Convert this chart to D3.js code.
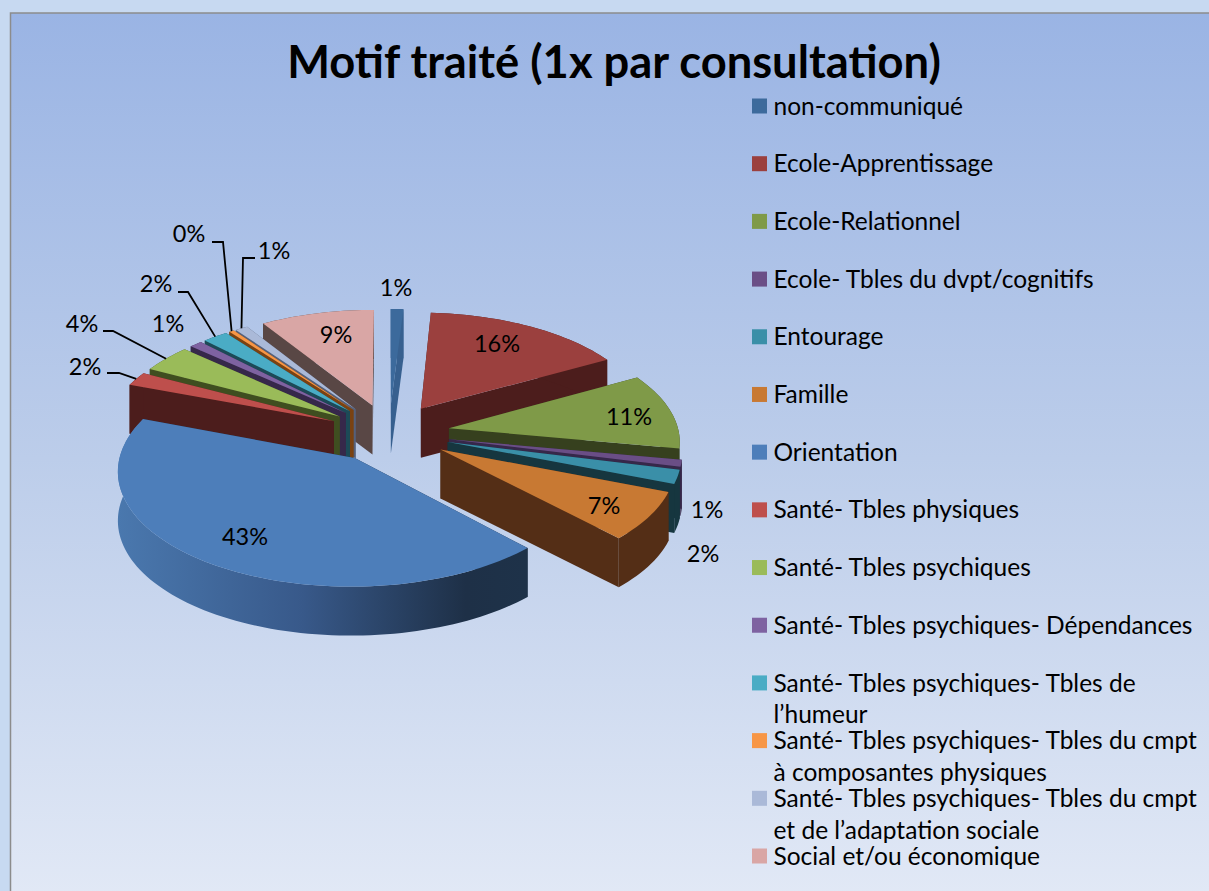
<!DOCTYPE html>
<html>
<head>
<meta charset="utf-8">
<title>Motif traité</title>
<script src="https://cdnjs.cloudflare.com/ajax/libs/d3/7.8.5/d3.min.js"></script>
<style>
    html, body { margin: 0; padding: 0; background: #c7d9f1; overflow: hidden; }
    svg { display: block; }
    text { font-family: Lato, "Open Sans", sans-serif; fill: #000; }
</style>
</head>
<body>
<div id="chart"></div>
<script>
const titleText = 'Motif traité (1x par consultation)';

// Categories and values, clockwise from 12 o'clock
const categories = [
    'non-communiqué', 'Ecole-Apprentissage', 'Ecole-Relationnel', 'Ecole- Tbles du dvpt/cognitifs',
    'Entourage', 'Famille', 'Orientation', 'Santé- Tbles physiques', 'Santé- Tbles psychiques',
    'Santé- Tbles psychiques- Dépendances', 'Santé- Tbles psychiques- Tbles de|l’humeur',
    'Santé- Tbles psychiques- Tbles du cmpt|à composantes physiques',
    'Santé- Tbles psychiques- Tbles du cmpt|et de l’adaptation sociale', 'Social et/ou économique'
];
const values = [1, 16, 11, 1, 2, 7, 43, 2, 4, 1, 2, 0.4, 1, 9];

const topColors = ['#3c6a9c', '#9b403e', '#7f9a48', '#6a4e86', '#3a8fa8', '#c87933', '#4d7eba',
    '#be4f4c', '#9abb59', '#7e62a1', '#4aacc5', '#f79646', '#aab9d8', '#d9a6a5'];
const sideColors = ['#37608f', '#4c1d1c', '#36401e', '#36284a', '#16363f', '#542e16', '#1e3047',
    '#4c1d1c', '#3f4e20', '#36284a', '#1c4a57', '#7a4212', '#55607a', '#594745'];

// Label placement [x, y] per slice, elbow of the leader line where there is one
const labelPos = [[396, 288], [497, 344], [629, 417], [707, 510], [703, 554], [604, 506], [245, 537],
    [85, 367], [82, 324], [168, 324], [156, 284], [189, 234], [274, 251], [336, 335]];
const leaders = {
    7: [[107, 373], [119, 373]],
    8: [[103, 331], [113, 331]],
    10: [[178, 292], [188, 292]],
    11: [[212, 242], [223, 242]],
    12: [[255, 258], [243, 258]]
};

const width = 1209, height = 891;
const cx = 389, cy = 433;      // pie centre on the top plane
const R = 230;                 // radius
const explode = 61;            // how far slices are pulled out
const tilt = 0.48;             // vertical squash of the ground plane
const persp = 0.1;             // near slices look bigger
const depth = 49;              // pie thickness

const svg = d3.select('#chart').append('svg')
    .attr('width', width)
    .attr('height', height);

const defs = svg.append('defs');
const bg = defs.append('linearGradient').attr('id', 'bg')
    .attr('x1', 0).attr('y1', 0).attr('x2', 0).attr('y2', 1);
bg.append('stop').attr('offset', '0%').attr('stop-color', '#9ab4e4');
bg.append('stop').attr('offset', '50%').attr('stop-color', '#bccdea');
bg.append('stop').attr('offset', '100%').attr('stop-color', '#e2e9f6');

const wall = defs.append('linearGradient').attr('id', 'wall')
    .attr('gradientUnits', 'userSpaceOnUse')
    .attr('x1', 118).attr('y1', 0).attr('x2', 527).attr('y2', 0);
wall.append('stop').attr('offset', '0%').attr('stop-color', '#4a78ae');
wall.append('stop').attr('offset', '45%').attr('stop-color', '#38598a');
wall.append('stop').attr('offset', '85%').attr('stop-color', '#1e3047');
wall.append('stop').attr('offset', '100%').attr('stop-color', '#1e3249');

svg.append('rect')
    .attr('x', 10.5).attr('y', 13)
    .attr('width', width).attr('height', height)
    .attr('fill', 'url(#bg)')
    .attr('stroke', '#8c8c8c')
    .attr('stroke-width', 1.5);

svg.append('text')
    .attr('x', 614).attr('y', 78)
    .attr('text-anchor', 'middle')
    .attr('font-size', 45.3)
    .attr('font-weight', 700)
    .text(titleText);

// ground plane -> screen
function project(gx, gz, drop) {
    const s = 1 / (1 + persp * gz / R);
    return [cx + gx * s, cy - gz * tilt * s + (drop || 0)];
}

function slicePoint(d, a, r, drop) {
    const mid = (d.startAngle + d.endAngle) / 2;
    const gx = explode * Math.sin(mid) + r * Math.sin(a);
    const gz = explode * Math.cos(mid) + r * Math.cos(a);
    return project(gx, gz, drop);
}

const pie = d3.pie().sort(null).startAngle(0).endAngle(2 * Math.PI);
const arcs = pie(values);
const line = d3.line();

function rim(d, drop) {
    const n = Math.max(2, Math.ceil((d.endAngle - d.startAngle) / 0.03));
    return d3.range(n + 1).map(i => slicePoint(d, d.startAngle + (d.endAngle - d.startAngle) * i / n, R, drop));
}

// paint from the back of the pie to the front
const order = d3.range(arcs.length).sort((a, b) =>
    Math.cos((arcs[b].startAngle + arcs[b].endAngle) / 2) - Math.cos((arcs[a].startAngle + arcs[a].endAngle) / 2));

const pieG = svg.append('g');
order.forEach(i => {
    const d = arcs[i];
    const g = pieG.append('g');
    const side = i === 6 ? 'url(#wall)' : sideColors[i];
    const top = rim(d, 0);
    const bottom = rim(d, depth);

    const faces = [
        { a: d.startAngle, pts: [slicePoint(d, 0, 0, 0), top[0], bottom[0], slicePoint(d, 0, 0, depth)], fill: sideColors[i] },
        { a: d.endAngle, pts: [slicePoint(d, 0, 0, 0), top[top.length - 1], bottom[bottom.length - 1], slicePoint(d, 0, 0, depth)], fill: sideColors[i] }
    ].sort((p, q) => Math.cos(q.a) - Math.cos(p.a));

    faces.forEach(f => {
        g.append('path').attr('d', line(f.pts) + 'Z').attr('fill', f.fill);
    });
    g.append('path')
        .attr('d', line(top.concat(bottom.slice().reverse())) + 'Z')
        .attr('fill', side);
    g.append('path')
        .attr('d', line([slicePoint(d, 0, 0, 0)].concat(top)) + 'Z')
        .attr('fill', topColors[i]);
});

// Leader lines
Object.keys(leaders).forEach(k => {
    const d = arcs[k];
    const end = slicePoint(d, (d.startAngle + d.endAngle) / 2, R, 0);
    svg.append('path')
        .attr('d', line(leaders[k].concat([end])))
        .attr('fill', 'none')
        .attr('stroke', '#000')
        .attr('stroke-width', 1.8);
});

// Percent labels
svg.append('g').selectAll('text')
    .data(values)
    .enter().append('text')
    .attr('x', (d, i) => labelPos[i][0])
    .attr('y', (d, i) => labelPos[i][1])
    .attr('dy', '0.35em')
    .attr('text-anchor', 'middle')
    .attr('font-size', 23.5)
    .text(d => Math.round(d) + '%');

// Legend
const legendY = d3.scalePoint().domain(categories).range([106, 856]);
const legend = svg.append('g').selectAll('g')
    .data(categories)
    .enter().append('g')
    .attr('transform', d => 'translate(752,' + legendY(d) + ')');

legend.append('rect')
    .attr('x', 0).attr('y', -7.5)
    .attr('width', 15).attr('height', 15)
    .attr('fill', (d, i) => topColors[i]);

legend.each(function (d) {
    const g = d3.select(this);
    d.split('|').forEach((txt, j) => {
        g.append('text')
            .attr('x', 21.5)
            .attr('y', j * 32)
            .attr('dy', '0.35em')
            .attr('font-size', 24.5)
            .text(txt);
    });
});
</script>
</body>
</html>
